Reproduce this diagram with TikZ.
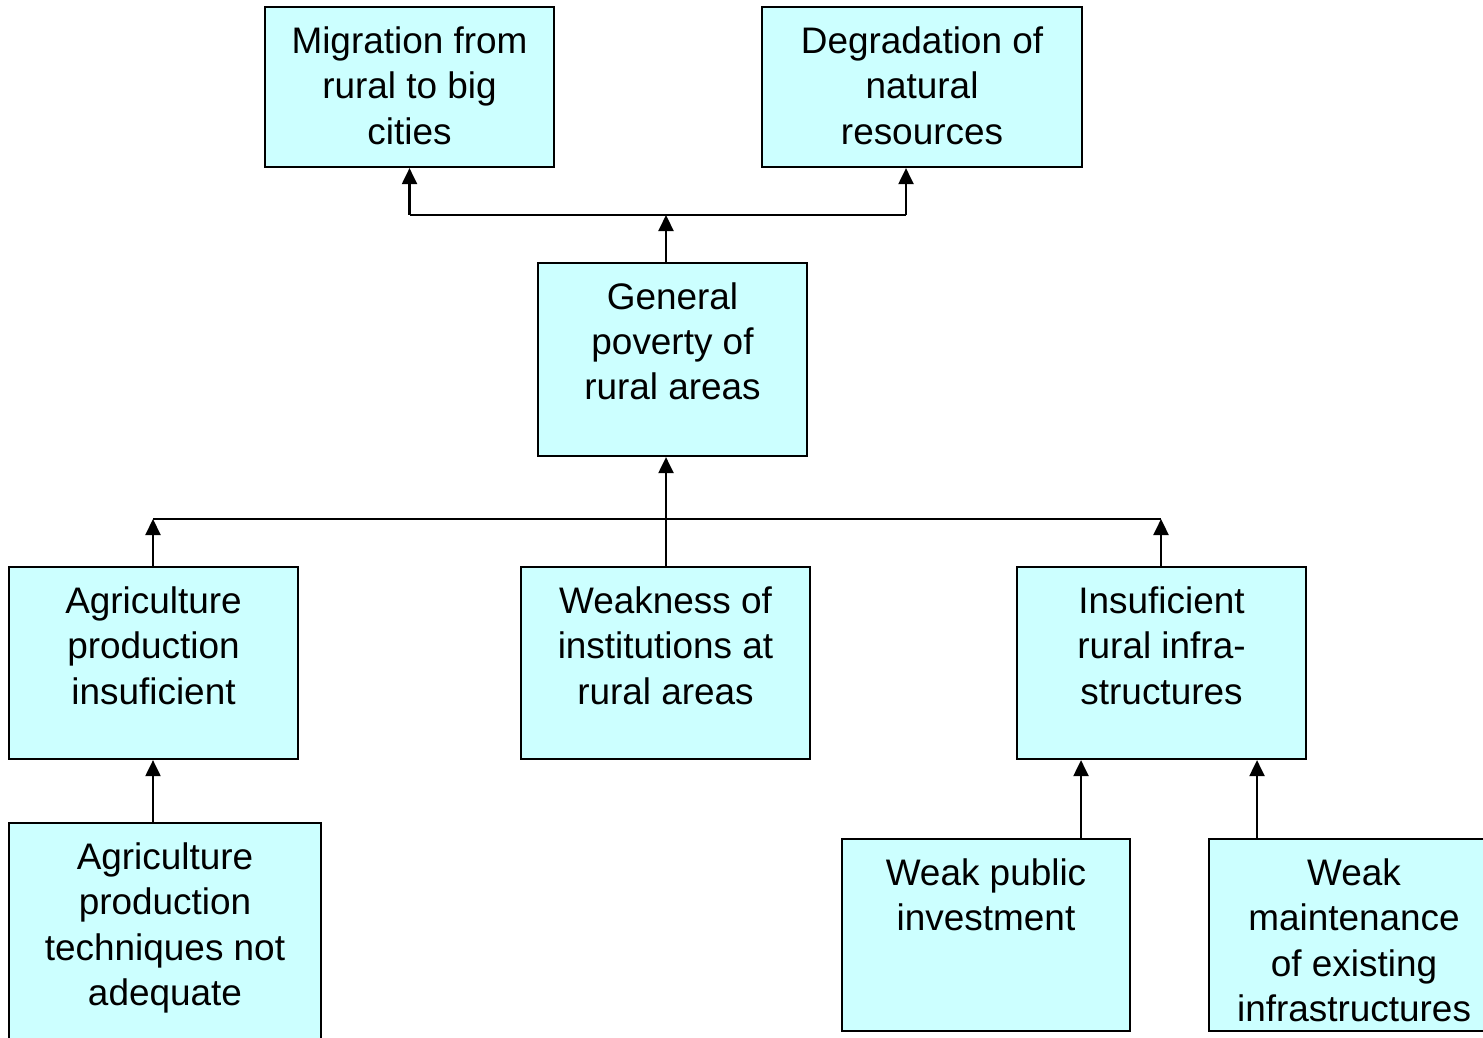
\documentclass[tikz,border=0pt]{standalone}
\usepackage{fontspec}
\setmainfont{Liberation Sans}
\usetikzlibrary{arrows.meta}
\definecolor{boxcyan}{RGB}{204,255,255}
\tikzset{
    cause/.style={draw, fill=boxcyan, inner sep=0pt, line width=0.6pt},
    link/.style={line width=0.6pt}
}
% text set at the top of a box of given width and height
\newcommand{\treetext}[3]{\parbox[c][#2][t]{#1}{\centering\rule{0pt}{0.47cm}#3}}

\begin{document}
\begin{tikzpicture}[x=0.01cm, y=-0.01cm, >={Triangle[width=0.15cm,length=0.16cm]},
    font=\fontsize{10.5}{12.8}\selectfont]
    \useasboundingbox (0,0) rectangle (1483,1037);

    \node[cause] (mig) at (409.5,87) {\treetext{2.89cm}{1.60cm}{Migration from\\rural to big\\cities}};
    \node[cause] (deg) at (922,87) {\treetext{3.20cm}{1.60cm}{Degradation of\\natural\\resources}};
    \node[cause] (pov) at (672.5,359.5) {\treetext{2.69cm}{1.93cm}{General\\poverty of\\rural areas}};
    \node[cause] (agr) at (153.5,663) {\treetext{2.89cm}{1.92cm}{Agriculture\\production\\insuficient}};
    \node[cause] (ins) at (665.5,663) {\treetext{2.89cm}{1.92cm}{Weakness of\\institutions at\\rural areas}};
    \node[cause] (inf) at (1161.5,663) {\treetext{2.89cm}{1.92cm}{Insuficient\\rural infra-\\structures}};
    \node[cause] (tec) at (165,933) {\treetext{3.12cm}{2.20cm}{Agriculture\\production\\techniques not\\adequate}};
    \node[cause] (pub) at (986,935) {\treetext{2.88cm}{1.92cm}{Weak public\\investment}};
    \node[cause] (mnt) at (1354,935) {\treetext{2.90cm}{1.92cm}{Weak\\maintenance\\of existing\\infrastructures}};

    \coordinate (up) at (666,215);
    \coordinate (upl) at (409.5,215);
    \coordinate (upr) at (906,215);
    \coordinate (dnl) at (153,519);
    \coordinate (dnr) at (1161,519);
    \coordinate (inl) at (1081,800);
    \coordinate (inr) at (1257,800);

    \draw[link,->] (pov.north -| up) to (up);
    \draw[link] (upl) to (upr);
    \draw[link,->] (upl) to (upl |- mig.south);
    \draw[link,->] (upr) to (upr |- deg.south);
    \draw[link,->] (up |- ins.north) to (up |- pov.south);
    \draw[link] (dnl) to (dnr);
    \draw[link,->] (dnl |- agr.north) to (dnl);
    \draw[link,->] (dnr |- inf.north) to (dnr);
    \draw[link,->] (dnl |- tec.north) to (dnl |- agr.south);
    \draw[link,->] (inl |- pub.north) to (inl |- inf.south);
    \draw[link,->] (inr |- mnt.north) to (inr |- inf.south);
\end{tikzpicture}
\end{document}
